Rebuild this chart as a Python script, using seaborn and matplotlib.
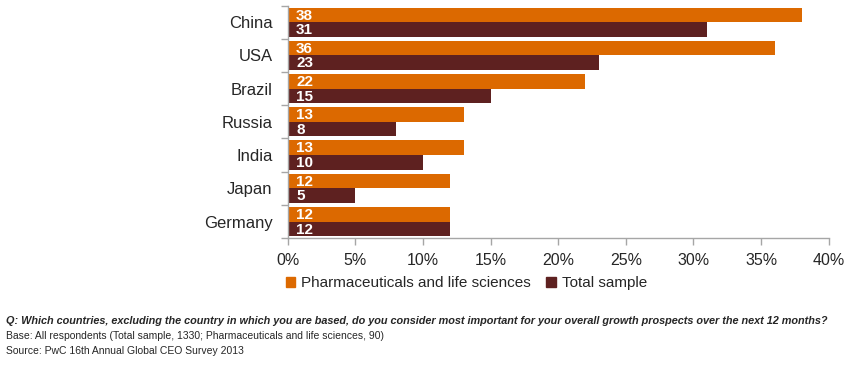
import pandas as pd
import matplotlib.pyplot as plt
import seaborn as sns
from matplotlib.patches import Patch

# 数据
countries = ["China", "USA", "Brazil", "Russia", "India", "Japan", "Germany"]
pharma = [38, 36, 22, 13, 13, 12, 12]
total = [31, 23, 15, 8, 10, 5, 12]
series_names = ["Pharmaceuticals and life sciences", "Total sample"]
x_ticks = [0, 5, 10, 15, 20, 25, 30, 35, 40]

colors = {"Pharmaceuticals and life sciences": "#DC6900", "Total sample": "#5E2120"}

df = pd.DataFrame({
    "country": countries * 2,
    "value": pharma + total,
    "series": [series_names[0]] * len(countries) + [series_names[1]] * len(countries),
})

sns.set_style("white")
plt.rcParams["font.family"] = ["Liberation Sans", "DejaVu Sans"]

fig = plt.figure(figsize=(8.49, 3.75), dpi=100)
ax = fig.add_axes([0.339, 0.365, 0.637, 0.62])

sns.barplot(data=df, y="country", x="value", hue="series", order=countries,
            hue_order=series_names, palette=colors, width=0.88, orient="h",
            saturation=1, ax=ax, legend=False, edgecolor="none")

# 柱内数值标签
for cont in ax.containers:
    for bar, v in zip(cont, cont.datavalues):
        ax.annotate(f"{int(v)}", xy=(0, bar.get_y() + bar.get_height() / 2),
                    xytext=(6, -0.5), textcoords="offset points",
                    ha="left", va="center", color="white",
                    fontsize=11, fontweight="bold")

ax.set_xlim(0, 40)
ax.set_ylim(len(countries) - 0.5, -0.5)
ax.set_xticks(x_ticks)
ax.set_xticklabels([f"{t}%" for t in x_ticks], fontsize=11.5)
ax.set_xlabel("")
ax.set_ylabel("")
ax.tick_params(axis="y", which="major", length=0, labelsize=12, pad=11)
ax.set_yticks([i - 0.5 for i in range(len(countries) + 1)], minor=True)
ax.tick_params(axis="y", which="minor", length=5, color="#A6A6A6", width=1)
ax.tick_params(axis="x", length=5, color="#A6A6A6", width=1, direction="out", pad=6)
ax.xaxis.set_ticks_position("bottom")
ax.yaxis.set_ticks_position("left")

for s in ["top", "right"]:
    ax.spines[s].set_visible(False)
for s in ["left", "bottom"]:
    ax.spines[s].set_color("#A6A6A6")
    ax.spines[s].set_linewidth(1)

# 图例
handles = [Patch(color=colors[n], label=n) for n in series_names]
fig.legend(handles=handles, loc="center left", bbox_to_anchor=(0.337, 0.245),
           ncol=2, frameon=False, fontsize=11, handlelength=0.6, handleheight=0.6,
           handletextpad=0.4, columnspacing=1.0, borderaxespad=0, borderpad=0)

# 注释
fig.text(0.007, 0.143,
         "Q: Which countries, excluding the country in which you are based, do you consider most important for your overall growth prospects over the next 12 months?",
         fontsize=7.8, fontweight="bold", fontstyle="italic", va="center")
fig.text(0.007, 0.105,
         "Base: All respondents (Total sample, 1330; Pharmaceuticals and life sciences, 90)",
         fontsize=7.5, va="center")
fig.text(0.007, 0.065, "Source: PwC 16th Annual Global CEO Survey 2013",
         fontsize=7.5, va="center")

fig.savefig("out.png", dpi=100)
